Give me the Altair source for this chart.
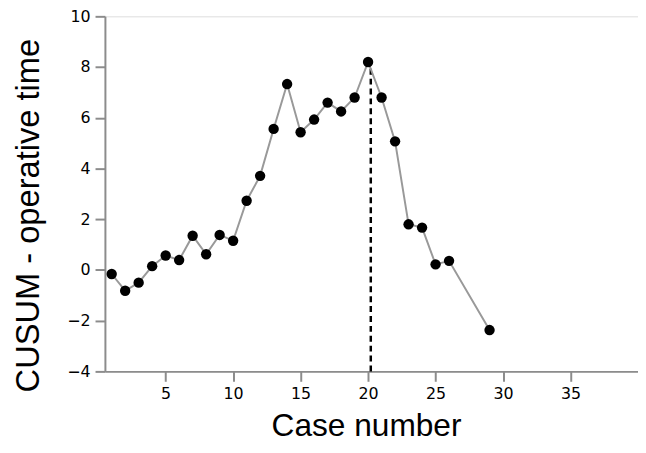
import altair as alt
import pandas as pd

cases = [1, 2, 3, 4, 5, 6, 7, 8, 9, 10, 11, 12, 13, 14, 15, 16, 17, 18, 19, 20,
         21, 22, 23, 24, 25, 26, 29]
cusum = [-0.16, -0.82, -0.5, 0.15, 0.57, 0.39, 1.35, 0.62, 1.38, 1.15, 2.73, 3.71,
         5.56, 7.33, 5.43, 5.93, 6.6, 6.25, 6.8, 8.2, 6.8, 5.07, 1.8, 1.67, 0.22,
         0.36, -2.37]
x_ticks = [5, 10, 15, 20, 25, 30, 35]
y_ticks = [-4, -2, 0, 2, 4, 6, 8, 10]
cut_case = [20.2]
cut_low = [-4]
cut_high = [8.2]

df = pd.DataFrame({"case": cases, "cusum": cusum})
cut = pd.DataFrame({"case": cut_case, "y": cut_low, "y2": cut_high})

xs = alt.Scale(domain=[0.5, 40], nice=False, zero=False)
ys = alt.Scale(domain=[-4, 10], nice=False, zero=False)

x_axis = alt.Axis(values=x_ticks, title="Case number", grid=False,
                  domainColor="#8c8c8c", domainWidth=2, tickColor="#8c8c8c",
                  tickWidth=2, tickSize=10, labelFont="DejaVu Sans", labelFontSize=16,
                  labelColor="black", labelPadding=4, titleFont="Liberation Sans",
                  titleFontSize=32, titleFontWeight="normal", titleColor="black",
                  titleBaseline="alphabetic", titleY=65, titleX=264, titleAnchor="middle")
y_axis = alt.Axis(values=y_ticks, title="CUSUM - operative time", grid=False,
                  domainColor="#8c8c8c", domainWidth=2, tickColor="#8c8c8c",
                  tickWidth=2, tickSize=10, labelFont="DejaVu Sans", labelFontSize=16,
                  labelColor="black", labelPadding=5, titleFont="Liberation Sans",
                  titleFontSize=33, titleFontWeight="normal", titleColor="black",
                  titleBaseline="alphabetic", titleX=-67, titleY=201, titleAngle=-90,
                  titleAnchor="middle")

line = alt.Chart(df).mark_line(color="#999999", strokeWidth=2).encode(
    x=alt.X("case:Q", scale=xs, axis=x_axis),
    y=alt.Y("cusum:Q", scale=ys, axis=y_axis),
)
pts = alt.Chart(df).mark_point(filled=True, color="black", size=110, opacity=1).encode(
    x=alt.X("case:Q", scale=xs),
    y=alt.Y("cusum:Q", scale=ys),
)
rule = alt.Chart(cut).mark_rule(color="black", strokeWidth=2.5, strokeDash=[6, 4]).encode(
    x=alt.X("case:Q", scale=xs),
    y=alt.Y("y:Q", scale=ys),
    y2="y2:Q",
)

chart = alt.layer(rule, line, pts).properties(
    width=539, height=359,
    autosize=alt.AutoSizeParams(type="none"),
    padding={"left": 98, "top": 6, "right": 0, "bottom": 72},
).configure_view(stroke="#8c8c8c", strokeWidth=2).configure(background="white")

chart.save("out.html", embed_options={"renderer": "svg", "actions": False})
